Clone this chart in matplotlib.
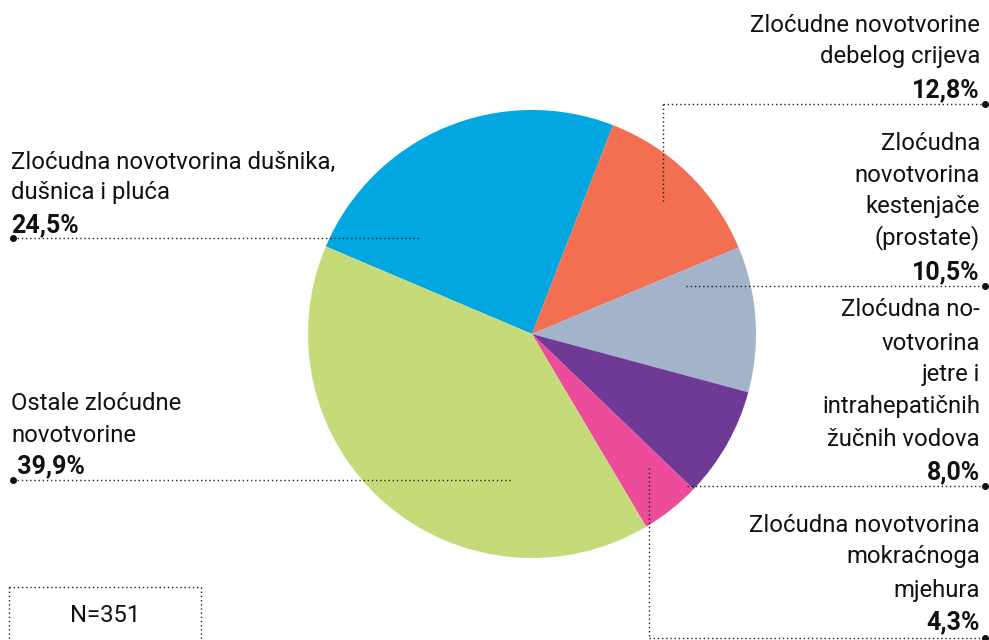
import matplotlib
matplotlib.use('Agg')
import matplotlib.pyplot as plt

# Data
shares = [24.5, 12.8, 10.5, 8.0, 4.3, 39.9]
colors = ['#02a6e0', '#f26f52', '#a3b3ca', '#6e3a96', '#ec4c9a', '#c5db7a']
labels = [
    ['Zloćudna novotvorina dušnika,', 'dušnica i pluća'],
    ['Zloćudne novotvorine', 'debelog crijeva'],
    ['Zloćudna', 'novotvorina', 'kestenjače', '(prostate)'],
    ['Zloćudna no-', 'votvorina', 'jetre i', 'intrahepatičnih', 'žučnih vodova'],
    ['Zloćudna novotvorina', 'mokraćnoga', 'mjehura'],
    ['Ostale zloćudne', 'novotvorine'],
]
pct_labels = ['24,5%', '12,8%', '10,5%', '8,0%', '4,3%', ' 39,9%']
n_text = 'N=351'

W, H = 989, 640
plt.rcParams['font.family'] = ['Roboto', 'DejaVu Sans']

fig = plt.figure(figsize=(W / 100, H / 100), dpi=100)
ax = fig.add_axes([0, 0, 1, 1])

def Y(y):
    # pixel y (from top) to data y
    return H - y

ax.pie(shares, colors=colors, startangle=157, counterclock=False,
       center=(532, Y(334)), radius=224, frame=True,
       wedgeprops=dict(linewidth=0))
ax.set_xlim(0, W)
ax.set_ylim(0, H)
ax.set_aspect('equal')
ax.axis('off')

fs = 17.2
fs_pct = 18
dot = dict(color='#222222', linewidth=1, linestyle=(0, (1, 2)))

def label_block(x, ys, lines, pct, ha):
    for yy, t in zip(ys[:-1], lines):
        ax.text(x, Y(yy), t, ha=ha, va='center', fontsize=fs, color='#111111')
    ax.text(x, Y(ys[-1]), pct, ha=ha, va='center', fontsize=fs_pct,
            fontweight='bold', color='#111111')

# left labels
label_block(11, [162, 193, 225], labels[0], pct_labels[0], 'left')
label_block(11, [403, 435, 466], labels[5], pct_labels[5], 'left')
# right labels
label_block(980, [25, 57, 90], labels[1], pct_labels[1], 'right')
label_block(980, [143, 175, 207, 238, 272], labels[2], pct_labels[2], 'right')
label_block(980, [310, 343, 375, 407, 440, 472], labels[3], pct_labels[3], 'right')
label_block(980, [525, 557, 590, 622], labels[4], pct_labels[4], 'right')

# leader lines
ax.plot([13, 420], [Y(238), Y(238)], **dot)
ax.plot([13, 513], [Y(480), Y(480)], **dot)
ax.plot([663, 985], [Y(104), Y(104)], **dot)
ax.plot([663, 663], [Y(104), Y(203)], **dot)
ax.plot([686, 985], [Y(286), Y(286)], **dot)
ax.plot([687, 985], [Y(486), Y(486)], **dot)
ax.plot([649, 649], [Y(468), Y(638)], **dot)
ax.plot([649, 985], [Y(638), Y(638)], **dot)
for x, y in [(13, 238), (13, 480), (985, 104), (985, 286), (985, 486), (985, 638)]:
    ax.plot(x, Y(y), 'o', color='#111111', markersize=4)

# N box
ax.plot([9, 201], [Y(587), Y(587)], **dot)
ax.plot([9, 9], [Y(587), Y(640)], **dot)
ax.plot([201, 201], [Y(587), Y(640)], **dot)
ax.text(105, Y(615), n_text, ha='center', va='center', fontsize=fs, color='#111111')

fig.savefig('out.png', dpi=100)
